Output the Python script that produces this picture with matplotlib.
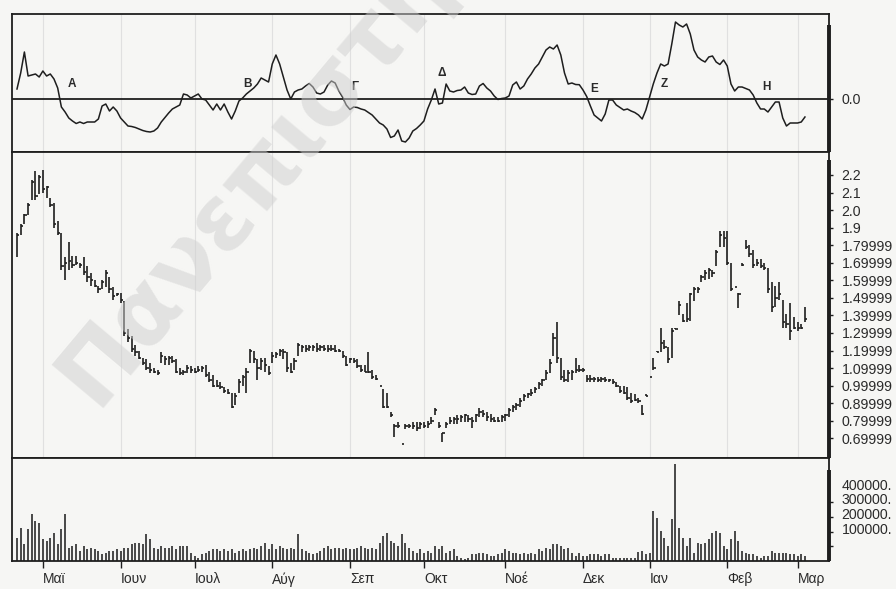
import numpy as np
import matplotlib
matplotlib.use('Agg')
import matplotlib.pyplot as plt
import matplotlib.transforms as mtransforms

plt.rcParams['font.family'] = ['Liberation Sans', 'DejaVu Sans']

# month axis (trading-day index of first session)
months = ['Μαϊ', 'Ιουν', 'Ιουλ', 'Αύγ', 'Σεπ', 'Οκτ', 'Νοέ', 'Δεκ', 'Ιαν', 'Φεβ', 'Μαρ']
month_start = [7, 28, 48, 69, 90, 110, 132, 153, 171, 192, 211]

# daily high / low / close
high = [1.87, 1.92, 1.98, 2.04, 2.17, 2.22, 2.20, 2.23, 2.14, 2.07,
        2.04, 1.94, 1.87, 1.73, 1.82, 1.74, 1.74, 1.70, 1.73, 1.68,
        1.64, 1.60, 1.57, 1.60, 1.66, 1.62, 1.56, 1.53, 1.53, 1.48,
        1.32, 1.28, 1.23, 1.20, 1.16, 1.15, 1.13, 1.10, 1.09, 1.19,
        1.17, 1.17, 1.17, 1.15, 1.10, 1.09, 1.12, 1.11, 1.10, 1.11,
        1.11, 1.12, 1.08, 1.06, 1.03, 1.02, 0.99, 0.98, 0.96, 0.96,
        1.04, 1.06, 1.10, 1.21, 1.20, 1.15, 1.16, 1.16, 1.11, 1.19,
        1.19, 1.21, 1.21, 1.19, 1.13, 1.16, 1.24, 1.23, 1.23, 1.23,
        1.23, 1.24, 1.23, 1.23, 1.23, 1.23, 1.23, 1.21, 1.20, 1.17,
        1.16, 1.16, 1.15, 1.12, 1.12, 1.19, 1.09, 1.06, 1.00, 0.98,
        0.96, 0.85, 0.78, 0.79, 0.67, 0.78, 0.78, 0.79, 0.79, 0.79,
        0.79, 0.80, 0.82, 0.87, 0.79, 0.73, 0.79, 0.82, 0.82, 0.83,
        0.83, 0.84, 0.83, 0.82, 0.84, 0.87, 0.86, 0.85, 0.84, 0.82,
        0.82, 0.83, 0.84, 0.87, 0.89, 0.90, 0.93, 0.95, 0.96, 0.98,
        0.99, 1.02, 1.04, 1.09, 1.15, 1.30, 1.36, 1.16, 1.09, 1.09,
        1.09, 1.16, 1.12, 1.10, 1.06, 1.06, 1.05, 1.05, 1.05, 1.05,
        1.04, 1.04, 1.02, 1.00, 1.00, 0.99, 0.96, 0.95, 0.93, 0.89,
        0.95, 1.05, 1.16, 1.20, 1.33, 1.26, 1.22, 1.33, 1.33, 1.48,
        1.41, 1.47, 1.53, 1.56, 1.56, 1.63, 1.66, 1.67, 1.66, 1.77,
        1.88, 1.88, 1.88, 1.70, 1.56, 1.53, 1.70, 1.83, 1.80, 1.77,
        1.72, 1.72, 1.70, 1.67, 1.59, 1.57, 1.59, 1.49, 1.41, 1.47,
        1.39, 1.36, 1.35, 1.45]
low = [1.73, 1.86, 1.92, 1.97, 2.06, 2.06, 2.09, 2.10, 2.07, 2.02,
       1.90, 1.86, 1.66, 1.60, 1.66, 1.67, 1.69, 1.67, 1.63, 1.59,
       1.57, 1.56, 1.53, 1.55, 1.56, 1.53, 1.49, 1.51, 1.47, 1.28,
       1.25, 1.19, 1.17, 1.15, 1.12, 1.09, 1.07, 1.07, 1.06, 1.13,
       1.12, 1.12, 1.13, 1.07, 1.06, 1.06, 1.07, 1.07, 1.07, 1.08,
       1.08, 1.05, 1.02, 0.99, 0.99, 0.98, 0.96, 0.95, 0.87, 0.89,
       0.96, 1.00, 0.96, 1.13, 1.13, 1.03, 1.09, 1.08, 1.06, 1.13,
       1.16, 1.17, 1.15, 1.08, 1.07, 1.09, 1.17, 1.19, 1.19, 1.20,
       1.20, 1.19, 1.20, 1.20, 1.19, 1.20, 1.19, 1.19, 1.16, 1.11,
       1.13, 1.13, 1.10, 1.08, 1.08, 1.07, 1.04, 1.03, 1.00, 0.87,
       0.87, 0.82, 0.71, 0.76, 0.67, 0.75, 0.76, 0.75, 0.74, 0.75,
       0.76, 0.76, 0.78, 0.83, 0.76, 0.68, 0.76, 0.78, 0.78, 0.78,
       0.79, 0.79, 0.79, 0.76, 0.79, 0.82, 0.82, 0.80, 0.79, 0.79,
       0.79, 0.79, 0.80, 0.82, 0.85, 0.86, 0.88, 0.91, 0.93, 0.94,
       0.96, 0.98, 1.00, 1.03, 1.07, 1.17, 1.13, 1.03, 1.02, 1.02,
       1.03, 1.07, 1.08, 1.08, 1.02, 1.02, 1.02, 1.02, 1.02, 1.02,
       1.02, 1.01, 0.99, 0.96, 0.95, 0.92, 0.90, 0.91, 0.90, 0.83,
       0.94, 1.05, 1.09, 1.19, 1.19, 1.21, 1.13, 1.16, 1.32, 1.40,
       1.36, 1.36, 1.37, 1.48, 1.53, 1.59, 1.60, 1.61, 1.62, 1.68,
       1.79, 1.79, 1.69, 1.54, 1.56, 1.44, 1.68, 1.78, 1.73, 1.67,
       1.68, 1.67, 1.66, 1.53, 1.42, 1.45, 1.49, 1.33, 1.33, 1.26,
       1.32, 1.31, 1.32, 1.36]
close = [1.86, 1.91, 1.97, 2.03, 2.16, 2.08, 2.19, 2.12, 2.13, 2.03,
         1.92, 1.87, 1.68, 1.70, 1.71, 1.69, 1.70, 1.69, 1.65, 1.62,
         1.60, 1.57, 1.55, 1.59, 1.64, 1.55, 1.51, 1.52, 1.49, 1.30,
         1.27, 1.21, 1.19, 1.16, 1.13, 1.10, 1.09, 1.08, 1.07, 1.17,
         1.15, 1.16, 1.14, 1.08, 1.07, 1.08, 1.10, 1.09, 1.08, 1.09,
         1.10, 1.06, 1.03, 1.00, 1.00, 0.99, 0.97, 0.96, 0.88, 0.94,
         1.02, 1.05, 1.08, 1.20, 1.15, 1.10, 1.14, 1.12, 1.07, 1.17,
         1.18, 1.20, 1.19, 1.10, 1.08, 1.14, 1.23, 1.22, 1.21, 1.22,
         1.22, 1.21, 1.22, 1.21, 1.21, 1.21, 1.20, 1.20, 1.17, 1.12,
         1.15, 1.14, 1.11, 1.09, 1.08, 1.08, 1.05, 1.04, 1.00, 0.88,
         0.88, 0.83, 0.77, 0.77, 0.67, 0.77, 0.77, 0.77, 0.76, 0.78,
         0.77, 0.78, 0.80, 0.86, 0.77, 0.73, 0.78, 0.80, 0.81, 0.81,
         0.82, 0.83, 0.81, 0.80, 0.83, 0.85, 0.84, 0.82, 0.81, 0.80,
         0.80, 0.82, 0.83, 0.86, 0.88, 0.89, 0.91, 0.94, 0.95, 0.96,
         0.98, 1.01, 1.03, 1.07, 1.13, 1.27, 1.16, 1.05, 1.03, 1.07,
         1.08, 1.09, 1.09, 1.09, 1.04, 1.04, 1.04, 1.03, 1.04, 1.03,
         1.03, 1.02, 1.00, 0.97, 0.96, 0.93, 0.91, 0.92, 0.91, 0.84,
         0.94, 1.05, 1.10, 1.19, 1.24, 1.22, 1.15, 1.31, 1.32, 1.46,
         1.37, 1.38, 1.52, 1.55, 1.55, 1.62, 1.64, 1.66, 1.64, 1.76,
         1.86, 1.84, 1.70, 1.55, 1.56, 1.52, 1.69, 1.79, 1.75, 1.69,
         1.70, 1.68, 1.67, 1.55, 1.45, 1.50, 1.52, 1.36, 1.35, 1.31,
         1.33, 1.33, 1.33, 1.38]

# oscillator (top panel)
osc = [1.0, 2.6, 4.7, 2.3, 2.4, 2.5, 2.2, 2.8, 2.3, 2.5,
       2.0, 1.1, -0.8, -1.3, -1.9, -2.2, -2.45, -2.3, -2.45, -2.3,
       -2.3, -2.3, -2.0, -0.7, -0.5, -1.2, -0.8, -1.2, -1.9, -2.3,
       -2.7, -2.75, -2.85, -3.0, -3.15, -3.25, -3.3, -3.2, -2.9, -2.3,
       -1.85, -1.4, -1.0, -0.8, -0.6, 0.5, 0.4, 0.1, 0.3, 0.5,
       0.0, -0.1, -0.6, -1.1, -0.5, -1.1, -0.5, -1.3, -2.0, -1.2,
       -0.2, 0.1, 0.5, 0.8, 1.1, 1.5, 2.1, 1.9, 1.7, 3.5,
       4.4, 3.5, 2.2, 0.9, 0.0, 0.7, 0.9, 1.0, 1.3, 1.55,
       1.2, 0.6, 0.5, 0.7, 1.4, 1.8, 1.6, 0.8, 0.2, -0.6,
       -1.05, -0.8, -0.85, -1.0, -1.1, -1.35, -1.6, -2.0, -2.4, -2.6,
       -3.0, -3.85, -3.7, -3.1, -4.2, -4.3, -3.9, -3.2, -2.95, -2.6,
       -2.2, -1.0, -0.1, 1.0, -0.5, -0.4, 1.5, 0.8, 0.7, 0.85,
       0.9, 1.2, 0.6, 0.45, 0.5, 1.3, 1.55, 1.1, 0.8, 0.3,
       -0.05, 0.05, 0.1, 0.3, 1.4, 1.7, 1.0, 1.3, 2.0, 2.5,
       3.1, 3.5, 4.2, 4.9, 5.2, 5.0, 5.4, 4.4, 2.6, 1.5,
       1.6, 1.45, 1.43, 0.9, 0.25, -0.7, -1.6, -1.9, -2.2, -1.5,
       -0.1, -0.1, -0.6, -0.85, -1.1, -1.0, -1.2, -1.35, -1.6, -2.0,
       -1.1, 0.2, 1.5, 2.6, 3.5, 3.3, 3.5, 5.5, 7.7, 7.4,
       7.2, 7.5, 6.5, 4.9, 4.2, 3.9, 3.7, 4.2, 4.3, 3.7,
       3.45, 3.9, 3.3, 1.5, 0.8, 1.2, 1.2, 1.05, 0.9, 0.4,
       -0.4, -1.0, -1.0, -1.3, -0.8, -0.3, -0.3, -1.9, -2.7, -2.4,
       -2.4, -2.4, -2.3, -1.8]

# volume in thousands of shares
vol_k = [159, 227, 113, 215, 318, 272, 261, 147, 136, 159,
         193, 113, 215, 318, 91, 102, 113, 68, 102, 79,
         91, 79, 68, 45, 57, 68, 68, 79, 68, 91,
         91, 113, 125, 125, 113, 181, 147, 91, 79, 102,
         91, 91, 102, 79, 102, 102, 102, 57, 34, 23,
         45, 57, 68, 79, 79, 68, 79, 68, 79, 57,
         68, 79, 68, 79, 91, 79, 102, 125, 79, 113,
         79, 102, 91, 79, 91, 79, 181, 79, 68, 57,
         45, 57, 68, 91, 102, 79, 91, 91, 79, 91,
         79, 79, 91, 102, 91, 79, 91, 79, 125, 170,
         193, 136, 125, 102, 181, 125, 91, 68, 57, 79,
         57, 68, 57, 102, 79, 102, 51, 68, 79, 34,
         23, 11, 23, 45, 45, 57, 57, 45, 34, 34,
         45, 51, 79, 68, 57, 57, 45, 57, 45, 57,
         45, 79, 68, 91, 79, 113, 113, 102, 79, 91,
         57, 34, 57, 34, 34, 45, 45, 45, 34, 45,
         45, 23, 23, 23, 23, 23, 23, 23, 60, 68,
         45, 57, 340, 295, 204, 159, 102, 283, 658, 227,
         159, 102, 159, 57, 125, 113, 125, 147, 193, 204,
         193, 102, 79, 147, 204, 136, 68, 57, 45, 45,
         34, 23, 34, 34, 68, 57, 57, 57, 57, 45,
         45, 34, 45, 34]

wave_labels = ['Α', 'Β', 'Γ', 'Δ', 'Ε', 'Ζ', 'Η']
wave_day = [14.9, 62.2, 91.4, 114.9, 155.9, 175.1, 202.7]
wave_val = [1.5, 1.5, 1.15, 2.55, 1.0, 1.5, 1.2]

price_ticks = [2.2, 2.1, 2.0, 1.9, 1.8, 1.7, 1.6, 1.5, 1.4, 1.3, 1.2, 1.1, 1.0, 0.9, 0.8, 0.7]
price_labels = ['2.2', '2.1', '2.0', '1.9', '1.79999', '1.69999', '1.59999',
                '1.49999', '1.39999', '1.29999', '1.19999', '1.09999',
                '0.99999', '0.89999', '0.79999', '0.69999']
vol_ticks = [100000, 200000, 300000, 400000]
vol_labels = ['100000.', '200000.', '300000.', '400000.']

days = np.arange(len(close))
vol = np.array(vol_k) * 1000

ink = '#1e1e1e'
bg = '#f6f6f4'
fig = plt.figure(figsize=(8.96, 5.89), dpi=100, facecolor=bg)
L, W = 12 / 896, (829 - 12) / 896
ax1 = fig.add_axes([L, 1 - 152 / 589, W, 138 / 589])
ax2 = fig.add_axes([L, 1 - 458 / 589, W, 306 / 589], sharex=ax1)
ax3 = fig.add_axes([L, 1 - 561 / 589, W, 103 / 589], sharex=ax1)

for ax in (ax1, ax2, ax3):
    ax.set_facecolor(bg)
    for s in ax.spines.values():
        s.set_linewidth(1.3)
        s.set_color(ink)
    ax.yaxis.tick_right()
    ax.tick_params(axis='y', which='both', right=True, left=False, length=3,
                   width=1.0, color=ink, pad=6, labelsize=10.2, labelcolor='#2a2a2a')
    ax.tick_params(axis='x', bottom=False, labelbottom=False)

# faint month grid
for ax in (ax1, ax2):
    ax.vlines(month_start, 0, 1, transform=ax.get_xaxis_transform(),
              color='#e0e0e0', lw=0.8, zorder=0)

# oscillator
ax1.plot(days, osc, color=ink, lw=1.1)
ax1.axhline(0, color=ink, lw=1.3)
ax1.set_ylim(-5.3, 8.5)
ax1.set_yticks([0])
ax1.set_yticklabels(['0.0'])
for lab, d, v in zip(wave_labels, wave_day, wave_val):
    ax1.text(d, v, lab, fontsize=8.5, fontweight='bold', color='#2a2a2a',
             ha='center', va='center')

# price bars (high-low with close tick)
ax2.vlines(days, low, high, color=ink, lw=1.2)
ax2.hlines(close, days, days + 0.6, color=ink, lw=1.2)
ax2.set_ylim(0.5875, 2.331)
ax2.set_yticks(price_ticks)
ax2.set_yticklabels(price_labels)

# volume
ax3.vlines(days, 0, vol, color='#3a3a3a', lw=1.3)
ax3.set_ylim(0, 700000)
ax3.set_yticks(vol_ticks)
ax3.set_yticklabels(vol_labels)
shift = mtransforms.ScaledTranslation(0, 0.18, fig.dpi_scale_trans)
for t in ax3.get_yticklabels():
    t.set_transform(t.get_transform() + shift)

ax3.set_xlim(-1.35, 219.5)
ax3.set_xticks(month_start)
ax3.set_xticklabels(months)
ax3.tick_params(axis='x', bottom=True, labelbottom=True, direction='out',
                length=5, width=1.0, color=ink, pad=3, labelsize=10, labelcolor='#2a2a2a')
for t in ax3.get_xticklabels():
    t.set_horizontalalignment('left')

# thick right axis lines
for ax, top in ((ax1, 0.92), (ax2, 0.974), (ax3, 0.88)):
    ax.plot([1, 1], [0, top], transform=ax.transAxes, color=ink, lw=2.8,
            clip_on=False, solid_capstyle='butt')

# watermark
fig.text(95 / 896, 1 - 408 / 589, 'Πανεπιστήμιο', fontsize=66, fontweight='bold',
         family='DejaVu Sans', color='#cfcfcf', alpha=0.5, rotation=50,
         rotation_mode='anchor', ha='left', va='baseline', zorder=5)

fig.savefig('out.png', dpi=100, facecolor=bg)
